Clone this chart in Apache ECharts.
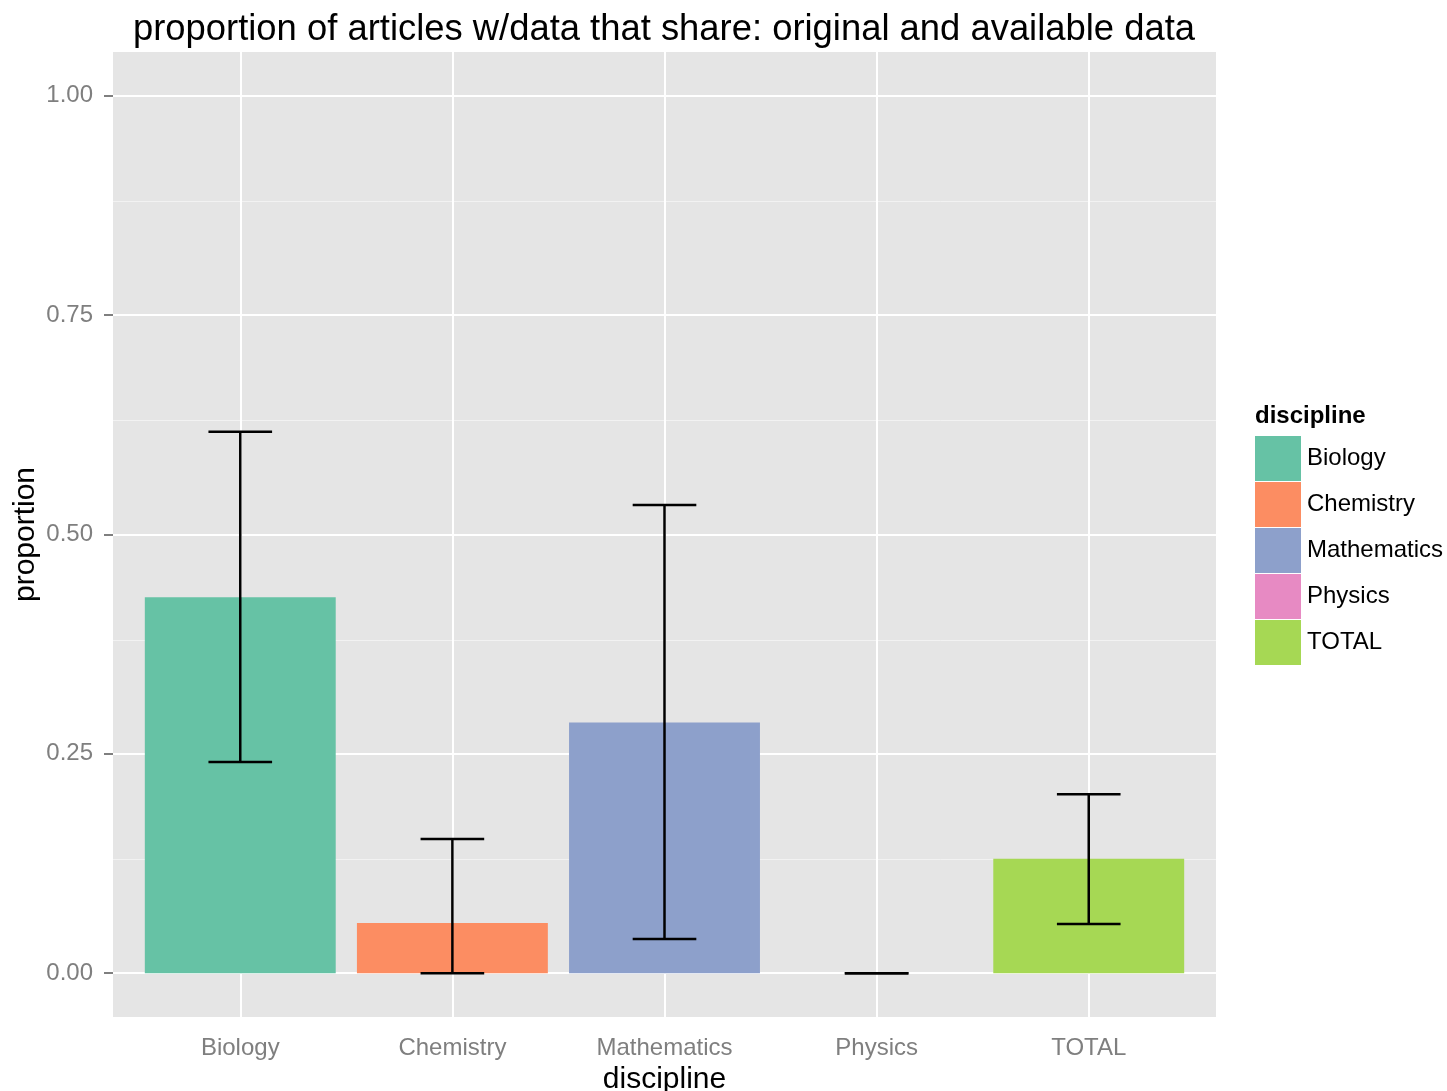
<!DOCTYPE html>
<html>
<head>
<meta charset="utf-8">
<script src="https://cdn.jsdelivr.net/npm/echarts@6/dist/echarts.min.js"></script>
<style>
  html, body { margin: 0; padding: 0; background: #fff; }
  #chart { width: 1447px; height: 1091px; }
</style>
</head>
<body>
<div id="chart"></div>
<script>
// data
const disciplines = ['Biology', 'Chemistry', 'Mathematics', 'Physics', 'TOTAL'];
const proportion = [0.4286, 0.0571, 0.2857, 0, 0.1304];
const errLower = [0.2406, 0, 0.0388, 0, 0.0559];
const errUpper = [0.6170, 0.1530, 0.5336, 0, 0.2040];
const yTicks = [0, 0.25, 0.5, 0.75, 1];
const yMinor = [0.125, 0.375, 0.625, 0.875];
const colors = ['#66c2a5', '#fc8d62', '#8da0cb', '#e78ac3', '#a6d854'];

// discrete positions 1..n, like ggplot
const xPos = disciplines.map((d, i) => i + 1);

const chart = echarts.init(document.getElementById('chart'));
const font = 'Liberation Sans, Arial, sans-serif';

// one series per discipline so the legend gets one entry each
const barSeries = disciplines.map((d, i) => ({
    name: d,
    type: 'custom',
    z: 3,
    itemStyle: {color: colors[i]},
    data: [[xPos[i], proportion[i]]],
    renderItem: function (params, api) {
        const x = api.value(0);
        const top = api.coord([x, api.value(1)]);
        const base = api.coord([x, 0]);
        const w = api.size([0.9, 0])[0];
        return {
            type: 'rect',
            shape: {x: top[0] - w / 2, y: top[1], width: w, height: base[1] - top[1]},
            style: {fill: colors[i]}
        };
    }
}));

// grid lines (markLines so they sit at the ggplot positions)
const gridLines = {
    type: 'line',
    data: [],
    z: 1,
    silent: true,
    markLine: {
        silent: true,
        z: 1,
        symbol: 'none',
        animation: false,
        label: {show: false},
        data: [
            ...yMinor.map(v => ({yAxis: v, lineStyle: {color: '#f2f2f2', width: 1, type: 'solid'}})),
            ...yTicks.map(v => ({yAxis: v, lineStyle: {color: '#ffffff', width: 2, type: 'solid'}})),
            ...xPos.map(v => ({xAxis: v, lineStyle: {color: '#ffffff', width: 2, type: 'solid'}}))
        ]
    }
};

const errorBars = {
    type: 'custom',
    name: 'error',
    z: 5,
    silent: true,
    data: xPos.map((x, i) => [x, errLower[i], errUpper[i]]),
    renderItem: function (params, api) {
        const x = api.value(0);
        const lo = api.coord([x, api.value(1)]);
        const hi = api.coord([x, api.value(2)]);
        const half = api.size([0.3, 0])[0] / 2;
        const style = {stroke: '#000', lineWidth: 2.5};
        return {
            type: 'group',
            children: [
                {type: 'line', shape: {x1: lo[0], y1: lo[1], x2: hi[0], y2: hi[1]}, style: style},
                {type: 'line', shape: {x1: lo[0] - half, y1: lo[1], x2: lo[0] + half, y2: lo[1]}, style: style},
                {type: 'line', shape: {x1: hi[0] - half, y1: hi[1], x2: hi[0] + half, y2: hi[1]}, style: style}
            ]
        };
    }
};

let option = {
    animation: false,
    title: {
        text: 'proportion of articles w/data that share: original and available data',
        left: 659,
        textAlign: 'center',
        top: 7,
        textStyle: {fontFamily: font, fontSize: 36.4, fontWeight: 'normal', color: '#000'}
    },
    legend: {
        data: disciplines,
        orient: 'vertical',
        left: 1255,
        top: 436,
        padding: 0,
        itemWidth: 46,
        itemHeight: 45,
        itemGap: 1,
        icon: 'rect',
        selectedMode: false,
        textStyle: {fontFamily: font, fontSize: 24, color: '#000', padding: [3, 0, 0, 1]}
    },
    graphic: [{
        type: 'text',
        left: 1255,
        top: 404,
        style: {text: 'discipline', font: 'bold 24px ' + font, fill: '#000'}
    }],
    grid: {
        left: 113,
        right: 231,
        top: 52,
        bottom: 74,
        outerBoundsMode: 'none',
        containLabel: false,
        show: true,
        backgroundColor: '#e5e5e5',
        borderWidth: 0
    },
    xAxis: {
        type: 'value',
        min: 0.4,
        max: 5.6,
        name: 'discipline',
        nameLocation: 'middle',
        nameGap: 48,
        nameTextStyle: {fontFamily: font, fontSize: 30, color: '#000'},
        axisLine: {show: false},
        axisTick: {show: true, length: 9, customValues: xPos, lineStyle: {color: '#7f7f7f', width: 2}},
        axisLabel: {
            fontFamily: font, fontSize: 24, color: '#7f7f7f', margin: 19,
            customValues: xPos,
            formatter: v => disciplines[Math.round(v) - 1]
        },
        splitLine: {show: false}
    },
    yAxis: {
        type: 'value',
        min: -0.05,
        max: 1.05,
        name: 'proportion',
        nameLocation: 'middle',
        nameGap: 72,
        nameMoveOverlap: false,
        nameTextStyle: {fontFamily: font, fontSize: 30, color: '#000'},
        axisLine: {show: false},
        axisTick: {show: true, length: 9, customValues: yTicks, lineStyle: {color: '#7f7f7f', width: 2}},
        axisLabel: {
            fontFamily: font, fontSize: 24, color: '#7f7f7f', margin: 20,
            customValues: yTicks,
            formatter: v => v.toFixed(2)
        },
        splitLine: {show: false}
    },
    series: [gridLines, ...barSeries, errorBars]
};

chart.setOption(option);
</script>
</body>
</html>
